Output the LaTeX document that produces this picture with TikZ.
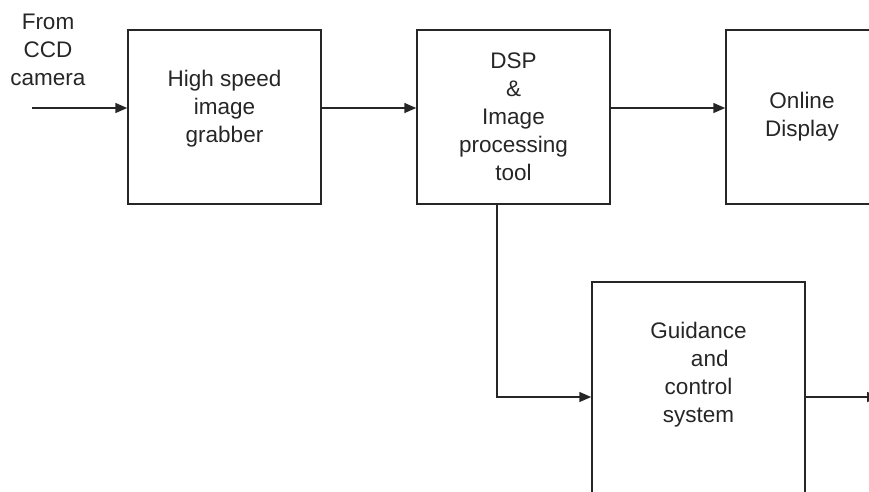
\documentclass[tikz,border=0pt]{standalone}
\usepackage{fontspec}
\setmainfont{Liberation Sans}
\usetikzlibrary{arrows.meta}

\tikzset{
  blk/.style={draw=black!85, line width=1.5pt, align=center, inner sep=0pt,
    font=\fontsize{22.5}{28}\selectfont, text=black!85},
  lbl/.style={align=center, inner sep=0pt,
    font=\fontsize{22.5}{28}\selectfont, text=black!85},
  arr/.style={draw=black!85, line width=1.5pt, -{Triangle[length=12pt,width=10pt]}}
}

\begin{document}
\begin{tikzpicture}[x=1pt, y=-1pt]
      \clip (0,0) rectangle (869,491);

      % Blocks
      \node[blk, minimum width=193pt, minimum height=174pt] (grab) at (224.5,117) {};
      \node[lbl] (grabtxt) at ([yshift=8pt]grab.center) {High speed\\image\\grabber};
      \node[blk, minimum width=193pt, minimum height=174pt] (dsp) at (513.5,117)
        {DSP\\\&\\Image\\processing\\tool};
      \node[blk, minimum width=152pt, minimum height=174pt] (disp) at (802,117)
        {Online\\Display};
      \node[blk, minimum width=213pt, minimum height=240pt] (guid) at (698.5,402) {};
      \node[lbl, anchor=north] (guidtxt) at ([yshift=-41pt]guid.north)
        {Guidance\\\hspace*{1em}and\\control\\system};

      % Input and output
      \node[lbl] (src) at (48,50) {From\\CCD\\camera};
      \coordinate (in) at (32,108);
      \coordinate (out) at (879,397);

      % Connectors
      \draw[arr] (in) -- (in -| grab.west);
      \draw[arr] (in -| grab.east) -- (in -| dsp.west);
      \draw[arr] (in -| dsp.east) -- (in -| disp.west);
      \draw[arr] ([xshift=-16.5pt]dsp.south) |- (out -| guid.west);
      \draw[arr] (out -| guid.east) -- (out);
    \end{tikzpicture}
\end{document}
